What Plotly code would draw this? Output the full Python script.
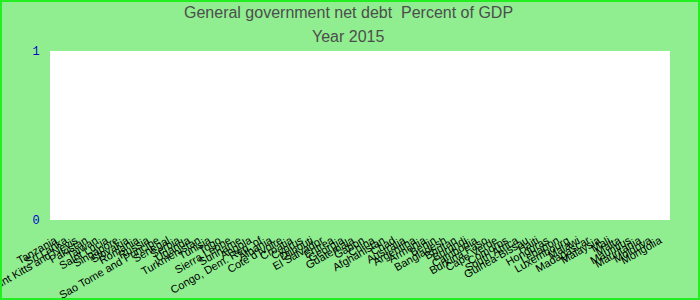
import plotly.graph_objects as go

countries = [
    "Tanzania", "Sri Lanka", "Saint Kitts and Nevis", "Pakistan", "Taiwan",
    "Saint Lucia", "Singapore", "Slovakia", "Romania", "Russia",
    "Sao Tome and Principe", "Senegal", "Serbia", "Uganda", "Turkmenistan",
    "Tunisia", "Togo", "Sierra Leone", "Suriname", "Angola",
    "Congo, Dem. Rep. of", "Albania", "Cote d'Ivoire", "Croatia", "Cyprus",
    "Djibouti", "El Salvador", "Eritrea", "Georgia", "Guatemala",
    "Gabon", "China", "Afghanistan", "Chad", "Australia",
    "Argentina", "Armenia", "Benin", "Bangladesh", "Bhutan",
    "Burundi", "Cambodia", "Burkina Faso", "Cape Verde", "Comoros",
    "South Africa", "Guinea-Bissau", "Haiti", "Honduras", "Lebanon",
    "Luxembourg", "Malawi", "Madagascar", "Malaysia", "Mali",
    "Malta", "Mauritius", "Mauritania", "Moldova", "Mongolia",
]
values = [0] * len(countries)

title_line1 = "General government net debt  Percent of GDP"
title_line2 = "Year 2015"

fig = go.Figure(go.Bar(x=countries, y=values, marker_color="#1f77b4"))

W, H = 700, 300
ml, mr, mt, mb = 50, 30, 51, 80
pw, ph = W - ml - mr, H - mt - mb


def ypaper(px):
    return 1 + (mt - px) / ph


def xpaper(px):
    return (px - ml) / pw


title_font = dict(family="Arial, Liberation Sans", size=16, color="#4d4d4d")

fig.update_layout(
    width=W, height=H,
    template="none",
    paper_bgcolor="#90EE90",
    plot_bgcolor="white",
    margin=dict(l=ml, r=mr, t=mt, b=mb, pad=0),
    showlegend=False,
    annotations=[
        dict(text=title_line1, xref="paper", yref="paper", x=xpaper(348),
             y=ypaper(13), xanchor="center", yanchor="middle",
             showarrow=False, font=title_font),
        dict(text=title_line2, xref="paper", yref="paper", x=xpaper(348),
             y=ypaper(36), xanchor="center", yanchor="middle",
             showarrow=False, font=title_font),
    ],
    xaxis=dict(
        type="category",
        range=[-0.5, len(countries)],
        tickmode="array", tickvals=countries, ticktext=countries,
        tickangle=-30,
        tickfont=dict(family="Arial, Liberation Sans", size=11, color="black"),
        showgrid=False, zeroline=False, showline=False,
        ticks="outside", ticklen=9, tickcolor="rgba(0,0,0,0)",
        automargin=False,
    ),
    yaxis=dict(
        range=[0, 1], dtick=1, tick0=0,
        tickfont=dict(family="Courier New, Liberation Mono", size=12, color="mediumblue"),
        showgrid=True, gridcolor="#dddddd", gridwidth=1,
        zeroline=False, showline=False,
        ticks="outside", ticklen=7, tickcolor="rgba(0,0,0,0)",
        automargin=False,
    ),
    shapes=[dict(
        type="rect", xref="paper", yref="paper",
        x0=(-ml + 1) / pw, x1=(W - ml - 1) / pw,
        y0=1 - (H - 1 - mt) / ph, y1=1 + (mt - 1) / ph,
        line=dict(color="#22ee22", width=2), fillcolor="rgba(0,0,0,0)",
        layer="above",
    )],
)

fig.write_html("out.html")
